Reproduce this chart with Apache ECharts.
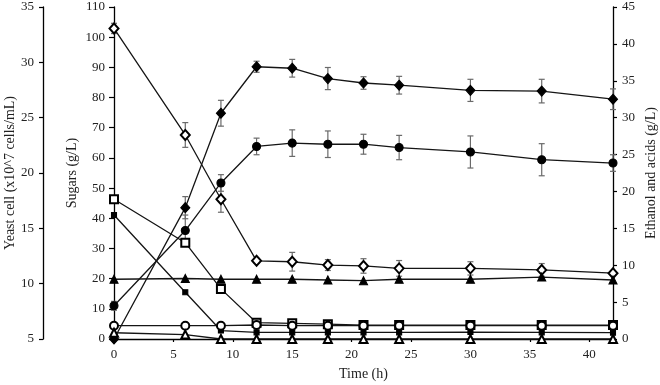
<!DOCTYPE html>
<html>
<head>
<meta charset="utf-8">
<script src="https://cdn.jsdelivr.net/npm/echarts@6/dist/echarts.min.js"></script>
<style>
  html, body { margin: 0; padding: 0; background: #fff; }
  #chartBox { width: 660px; height: 385px; }
</style>
</head>
<body>
<div id="chartBox"></div>
<script>
// sampling times (h)
let time = [0, 6, 9, 12, 15, 18, 21, 24, 30, 36, 42];

// yeast cells (x10^7 cells/mL), left outer axis
let yeastCells = [8.0, 14.8, 19.1, 22.4, 22.7, 22.6, 22.6, 22.3, 21.9, 21.2, 20.9];
let yeastErr = [0.4, 1.4, 0.75, 0.75, 1.2, 1.2, 0.9, 1.1, 1.45, 1.45, 0.75];

// sugars (g/L)
let sugarOpenDiamond = [102.9, 67.6, 46.3, 25.9, 25.6, 24.5, 24.2, 23.4, 23.4, 22.9, 21.8];
let sugarOpenDiamondErr = [1.7, 4.1, 4.3, 0.8, 3.1, 1.8, 2.4, 2.6, 2.2, 2.1, 0.7];
let sugarOpenSquare = [46.3, 31.9, 16.6, 5.4, 5.2, 4.9, 4.6, 4.6, 4.6, 4.6, 4.6];
let sugarFilledSquare = [41.1, 15.5, 2.8, 2.2, 2.2, 2.2, 2.2, 2.2, 2.3, 2.2, 2.1];

// ethanol and acids (g/L), right axis
let ethanol = [0, 17.8, 30.6, 36.9, 36.7, 35.3, 34.7, 34.4, 33.7, 33.6, 32.5];
let ethanolErr = [0, 1.5, 1.75, 0.75, 1.2, 1.5, 0.85, 1.2, 1.5, 1.6, 1.4];
let acidFilledTriangle = [8.1, 8.2, 8.1, 8.1, 8.1, 8.0, 7.9, 8.1, 8.1, 8.4, 8.0];
let acidOpenCircle = [1.8, 1.8, 1.8, 1.9, 1.8, 1.8, 1.8, 1.8, 1.8, 1.8, 1.8];
let acidOpenTriangle = [0.85, 0.6, 0, 0, 0, 0, 0, 0, 0, 0, 0];

let font = 'Liberation Serif';
let textColor = '#222';

function lineSeries(name, values, yIndex, symbol, size) {
  return {
    name: name,
    type: 'line',
    yAxisIndex: yIndex,
    data: time.map(function (t, i) { return [t, values[i]]; }),
    symbol: symbol,
    symbolSize: size,
    showAllSymbol: true,
    z: 3,
    lineStyle: { color: '#151515', width: 1.3 },
    itemStyle: { color: '#000', borderColor: '#000', borderWidth: 1.1 },
    emphasis: { disabled: true }
  };
}

function errorSeries(values, errors, yIndex) {
  return {
    type: 'custom',
    yAxisIndex: yIndex,
    z: 2,
    silent: true,
    encode: { x: 0, y: [1, 2] },
    data: time.map(function (t, i) {
      return [t, values[i] - errors[i], values[i] + errors[i]];
    }),
    renderItem: function (params, api) {
      let low = api.coord([api.value(0), api.value(1)]);
      let high = api.coord([api.value(0), api.value(2)]);
      if (Math.abs(high[1] - low[1]) < 0.5) {
        return { type: 'group', children: [] };
      }
      let half = 3;
      let style = { stroke: '#6a6a6a', lineWidth: 1.2 };
      return {
        type: 'group',
        children: [
          { type: 'line', shape: { x1: low[0], y1: low[1], x2: high[0], y2: high[1] }, style: style },
          { type: 'line', shape: { x1: high[0] - half, y1: high[1], x2: high[0] + half, y2: high[1] }, style: style },
          { type: 'line', shape: { x1: low[0] - half, y1: low[1], x2: low[0] + half, y2: low[1] }, style: style }
        ]
      };
    }
  };
}

function yAxis(name, min, max, interval, position, offset, nameGap, tickLen) {
  return {
    type: 'value',
    name: name,
    nameLocation: 'middle',
    nameGap: nameGap,
    nameMoveOverlap: false,
    nameTextStyle: { fontFamily: font, fontSize: 14, color: textColor },
    position: position,
    offset: offset,
    min: min,
    max: max,
    interval: interval,
    axisLine: { show: true, onZero: false, lineStyle: { color: '#000', width: 1.3 } },
    axisTick: { show: true, inside: false, length: tickLen, lineStyle: { color: '#000', width: 1.2 } },
    axisLabel: { fontFamily: font, fontSize: 13, color: textColor, margin: 9 },
    splitLine: { show: false }
  };
}

let myChart = echarts.init(document.getElementById('chartBox'));
let option = {
  animation: false,
  backgroundColor: '#fff',
  grid: {
    left: 114,
    right: 47,
    top: 7,
    bottom: 46,
    containLabel: false,
    outerBoundsMode: 'none'
  },
  xAxis: {
    type: 'value',
    name: 'Time (h)',
    nameLocation: 'middle',
    nameGap: 28,
    nameMoveOverlap: false,
    nameTextStyle: { fontFamily: font, fontSize: 14, color: textColor },
    min: 0,
    max: 42,
    interval: 5,
    axisLine: { onZero: false, lineStyle: { color: '#000', width: 1.3 } },
    axisTick: { inside: false, length: 3, lineStyle: { color: '#000', width: 1.2 } },
    axisLabel: { fontFamily: font, fontSize: 13, color: textColor, margin: 9, showMaxLabel: false },
    splitLine: { show: false }
  },
  yAxis: [
    yAxis('Sugars (g/L)', 0, 110, 10, 'left', 0, 34.5, 5),
    yAxis('Yeast cell (x10^7 cells/mL)', 5, 35, 5, 'left', 71, 26, 4),
    yAxis('Ethanol and acids (g/L)', 0, 45, 5, 'right', 0, 31, 4)
  ],
  series: [
    errorSeries(sugarOpenDiamond, sugarOpenDiamondErr, 0),
    errorSeries(yeastCells, yeastErr, 1),
    errorSeries(ethanol, ethanolErr, 2),
    lineSeries('Sugar A', sugarOpenDiamond, 0, 'emptyDiamond', [9, 10]),
    lineSeries('Sugar B', sugarOpenSquare, 0, 'emptyRect', 8),
    lineSeries('Sugar C', sugarFilledSquare, 0, 'rect', 5),
    lineSeries('Yeast cell', yeastCells, 1, 'circle', 8),
    lineSeries('Ethanol', ethanol, 2, 'diamond', [9, 10]),
    lineSeries('Acid A', acidFilledTriangle, 2, 'triangle', 8),
    lineSeries('Acid B', acidOpenCircle, 2, 'emptyCircle', 8),
    lineSeries('Acid C', acidOpenTriangle, 2, 'emptyTriangle', 8)
  ]
};
myChart.setOption(option);
</script>
</body>
</html>
